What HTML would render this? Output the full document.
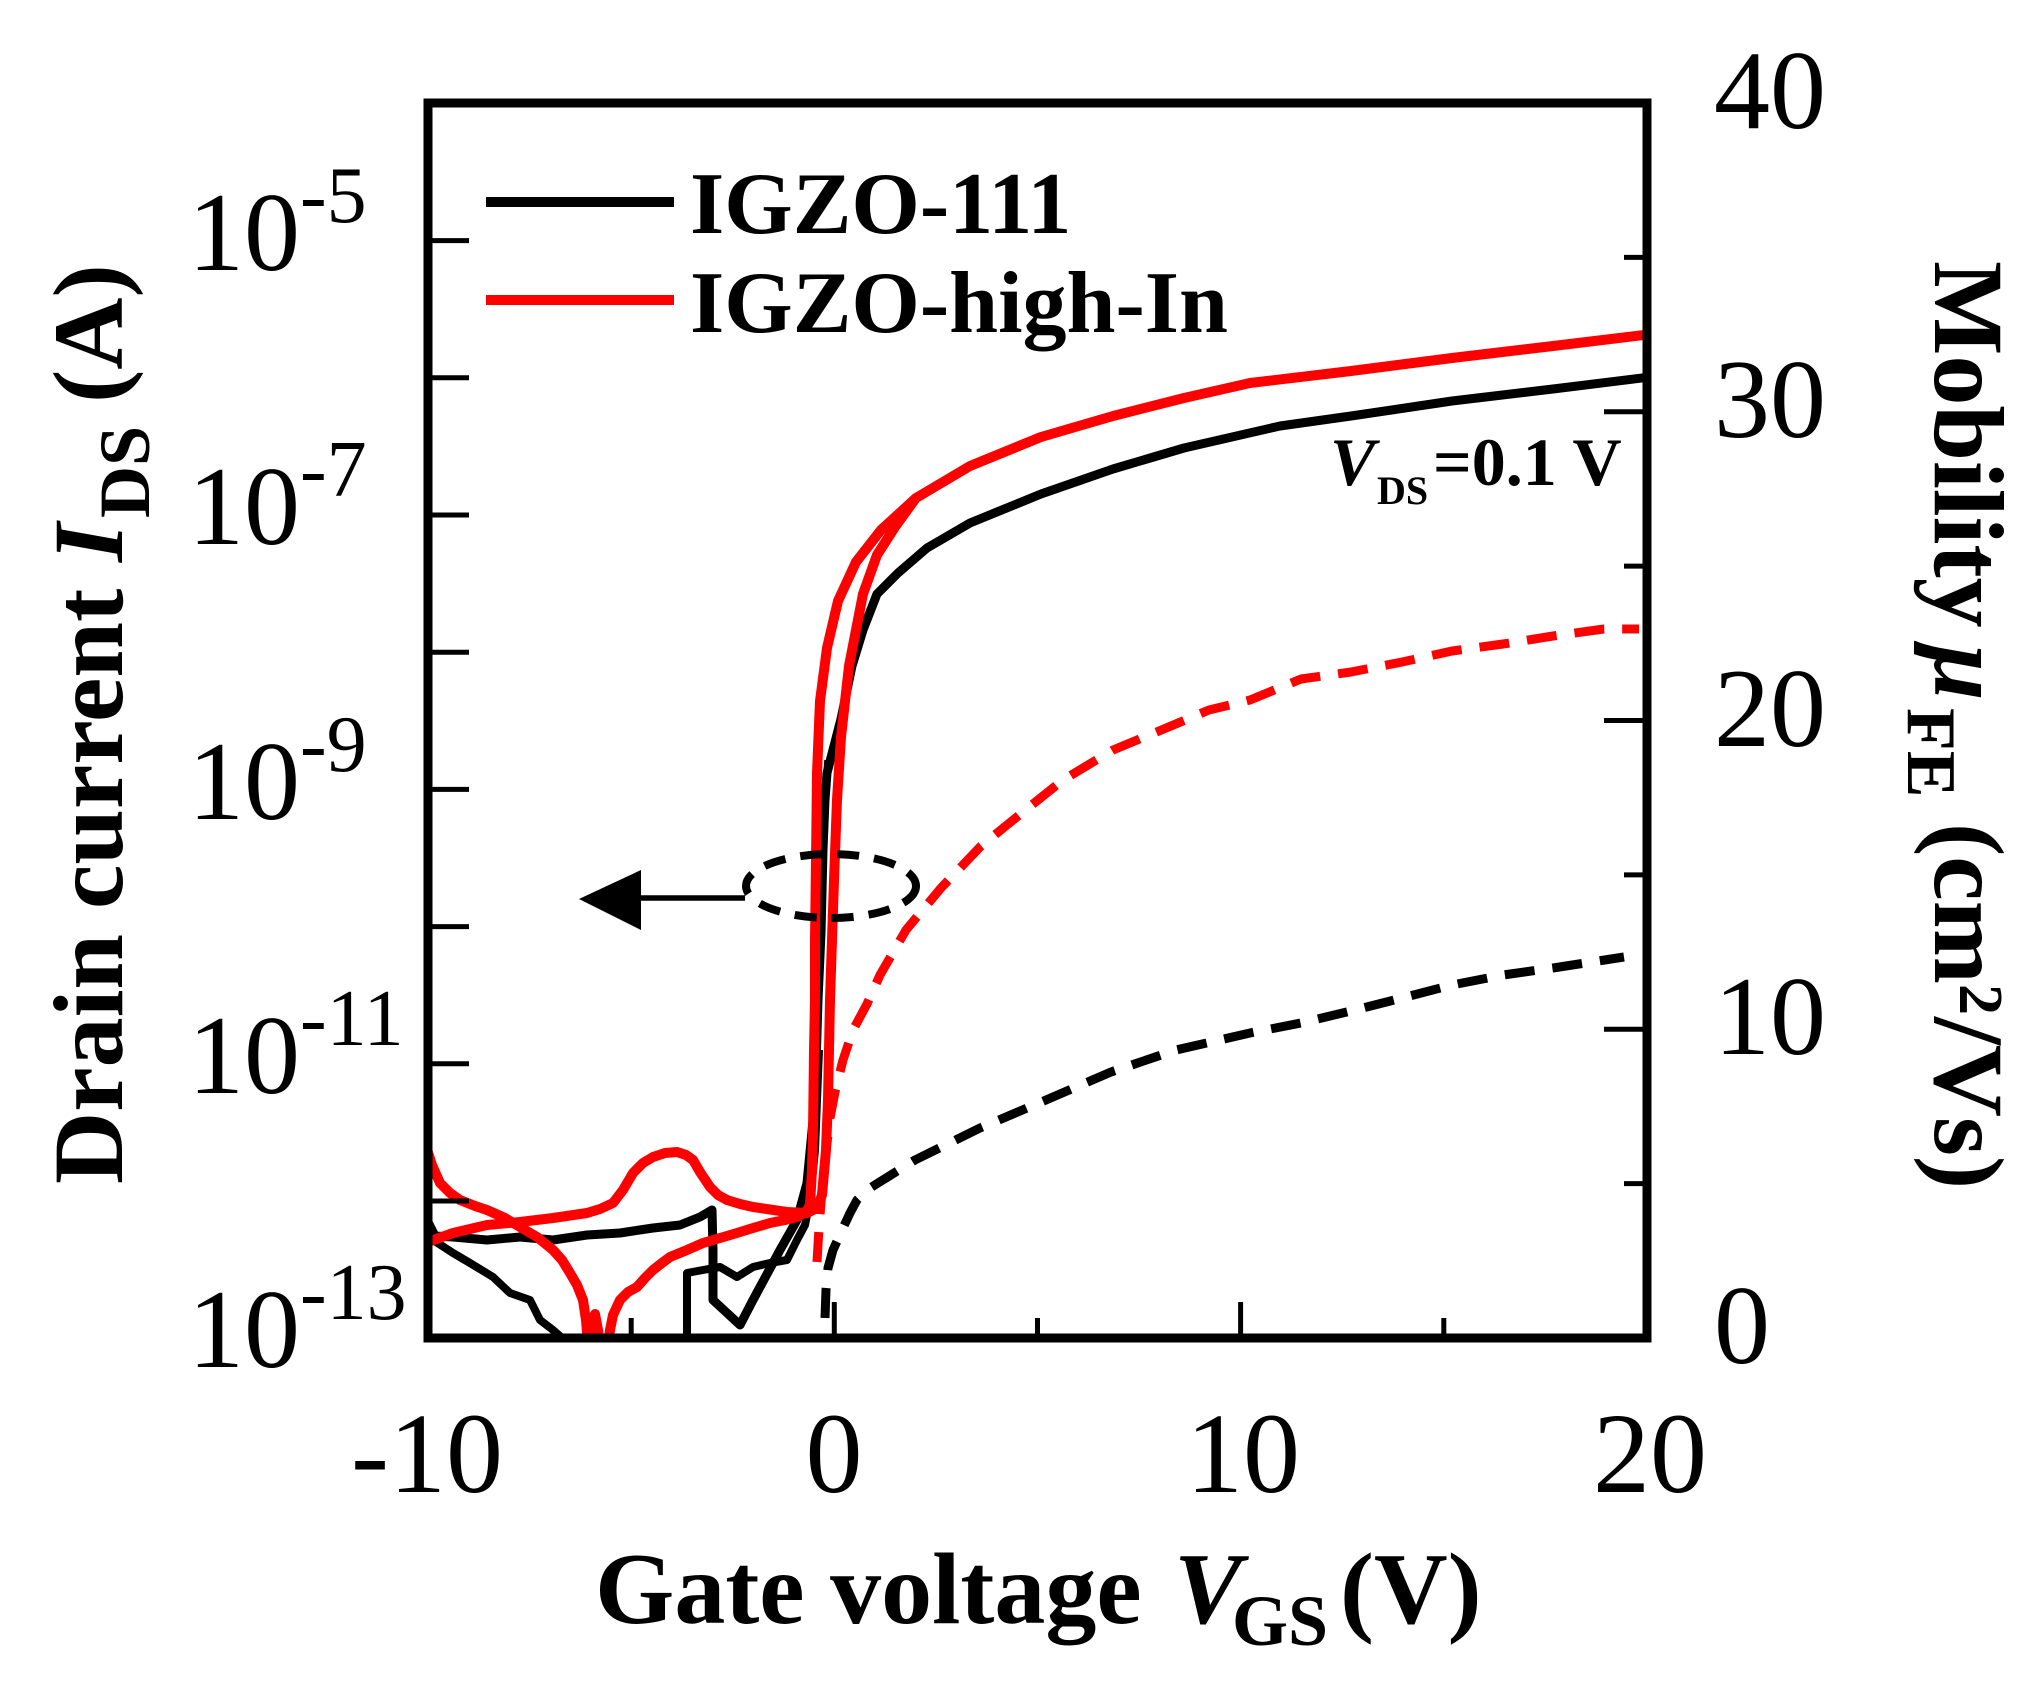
<!DOCTYPE html>
<html>
<head>
<meta charset="utf-8">
<style>
html,body{margin:0;padding:0;background:#fff;}
svg{display:block;}
text{font-family:"Liberation Serif","Times New Roman",serif;fill:#000;}
.b{font-weight:bold;}
.i{font-style:italic;}
</style>
</head>
<body>
<svg width="2043" height="1701" viewBox="0 0 2043 1701" xmlns="http://www.w3.org/2000/svg">
<rect x="0" y="0" width="2043" height="1701" fill="#fff"/>
<defs>
<clipPath id="pa"><rect x="428" y="103" width="1219" height="1235"/></clipPath>
</defs>

<g clip-path="url(#pa)" fill="none" stroke-linejoin="round">
  <!-- black dashed mobility -->
  <polyline stroke="#000" stroke-width="9" stroke-dasharray="30 18" points="825,1318 826,1290 828,1268 833,1250 843,1228 850,1213 857,1200 867,1190 878,1183 915,1160 980,1128 1046,1100 1111,1072 1176,1050 1250,1033 1301,1023 1351,1011 1402,998 1452,985 1503,975 1553,968 1624,957"/>
  <!-- red dashed mobility -->
  <polyline stroke="#ff0000" stroke-width="9" stroke-dasharray="30 18" points="817,1262 819,1228 822,1190 825,1160 830,1118 835,1092 843,1060 853,1030 867,1004 880,975 906,930 941,888 981,846 1023,812 1063,780 1113,750 1159,731 1209,710 1250,700 1301,679 1351,672 1402,662 1452,651 1503,644 1553,636 1604,629 1639,629"/>

  <!-- black solid curves -->
  <polyline stroke="#000" stroke-width="9" points="428,1222 435,1236 453,1237 487,1240 520,1237 553,1240 587,1235 620,1233 653,1228 680,1225 700,1217 712,1210 713,1250 713,1300 740,1325 753,1300 780,1250 797,1220 807,1183 815,1100 818,1000 821,933 823,850 825,800 827,773 841,719 852,666 863,630 877,594 898,573 927,548 970,523 1041,494 1113,469 1184,448 1280,426 1351,416 1452,401 1553,389 1650,377"/>
  <polyline stroke="#000" stroke-width="8" points="428,1222 433,1240 453,1253 470,1263 493,1277 510,1293 530,1300 540,1320 553,1330 570,1345"/>
  <polyline stroke="#000" stroke-width="8" points="687,1345 687,1273 703,1270 720,1267 737,1277 753,1267 770,1263 787,1260 797,1240 805,1225 810,1200 815,1150 819,1050"/>
  <polyline stroke="#000" stroke-width="3.5" points="819,1050 822,940 823,800 826,760"/>

  <!-- red solid curves -->
  <polyline stroke="#ff0000" stroke-width="10" points="425,1143 432,1165 440,1183 450,1193 460,1200 475,1206 487,1210 505,1218 520,1227 537,1237 553,1250 562,1260 570,1273 577,1285 583,1300 586,1320 588,1345 592,1322 595,1314 598,1330 600,1345"/>
  <polyline stroke="#ff0000" stroke-width="10" points="608,1345 610,1330 613,1315 620,1300 628,1292 637,1287 645,1278 653,1270 662,1263 670,1257 687,1250 703,1243 720,1238 737,1233 753,1228 770,1223 785,1220 797,1217 806,1212 810,1205 812,1170 813,1133 814,1050 815,1000 815,940 816,860 817,773 820,701 827,648 838,601 856,562 881,530 916,498 970,466 1041,437 1113,416 1184,398 1250,383 1351,371 1452,358 1553,346 1652,334"/>
  <polyline stroke="#ff0000" stroke-width="10" points="425,1243 453,1233 487,1225 520,1222 553,1218 587,1213 600,1209 613,1203 623,1190 633,1173 643,1163 653,1157 665,1153 677,1152 686,1155 693,1160 700,1172 710,1187 718,1195 727,1200 740,1204 753,1207 787,1212 807,1213 817,1208 822,1195 826,1150 828,1100 830,1000 832,940 834,880 837,800 841,737 849,666 863,594 877,555 895,527 916,498"/>
</g>

<!-- dashed ellipse and arrow -->
<ellipse cx="831" cy="886" rx="85" ry="32" fill="none" stroke="#000" stroke-width="8" stroke-dasharray="22 15"/>
<line x1="636" y1="898" x2="745" y2="898" stroke="#000" stroke-width="5.5"/>
<polygon points="579,899 641,870 641,930" fill="#000"/>

<!-- ticks -->
<g stroke="#000" stroke-width="5">
  <line x1="428" y1="240.6" x2="469" y2="240.6"/>
  <line x1="428" y1="377.8" x2="469" y2="377.8"/>
  <line x1="428" y1="515" x2="469" y2="515"/>
  <line x1="428" y1="652.2" x2="469" y2="652.2"/>
  <line x1="428" y1="789.4" x2="469" y2="789.4"/>
  <line x1="428" y1="926.6" x2="469" y2="926.6"/>
  <line x1="428" y1="1063.8" x2="469" y2="1063.8"/>
  <line x1="428" y1="1201" x2="469" y2="1201"/>
  <line x1="1604" y1="1029.25" x2="1647" y2="1029.25"/>
  <line x1="1604" y1="720.5" x2="1647" y2="720.5"/>
  <line x1="1604" y1="411.75" x2="1647" y2="411.75"/>
  <line x1="1624" y1="1183.6" x2="1647" y2="1183.6"/>
  <line x1="1624" y1="874.9" x2="1647" y2="874.9"/>
  <line x1="1624" y1="566.1" x2="1647" y2="566.1"/>
  <line x1="1624" y1="257.4" x2="1647" y2="257.4"/>
  <line x1="834.3" y1="1338" x2="834.3" y2="1302"/>
  <line x1="1240.6" y1="1338" x2="1240.6" y2="1302"/>
  <line x1="631.2" y1="1338" x2="631.2" y2="1318"/>
  <line x1="1037.5" y1="1338" x2="1037.5" y2="1318"/>
  <line x1="1443.8" y1="1338" x2="1443.8" y2="1318"/>
</g>

<!-- frame -->
<rect x="428" y="103" width="1219" height="1235" fill="none" stroke="#000" stroke-width="9"/>

<!-- legend -->
<line x1="486" y1="202" x2="674" y2="202" stroke="#000" stroke-width="10"/>
<line x1="486" y1="300" x2="674" y2="300" stroke="#ff0000" stroke-width="10"/>
<text class="b" x="690" y="233" font-size="88">IGZO-111</text>
<text class="b" x="690" y="332" font-size="88">IGZO-high-In</text>

<!-- VDS annotation -->
<text class="b i" x="1330" y="485" font-size="68">V</text>
<text class="b" x="1377" y="504" font-size="40">DS</text>
<text class="b" x="1433" y="485" font-size="68">=0.1 V</text>

<!-- left tick labels -->
<text x="188" y="270" font-size="112">10<tspan font-size="80" dy="-48">-5</tspan></text>
<text x="188" y="544" font-size="112">10<tspan font-size="80" dy="-48">-7</tspan></text>
<text x="188" y="819" font-size="112">10<tspan font-size="80" dy="-48">-9</tspan></text>
<text x="188" y="1093" font-size="112">10<tspan font-size="80" dy="-48">-11</tspan></text>
<text x="188" y="1367" font-size="112">10<tspan font-size="80" dy="-48">-13</tspan></text>

<!-- right tick labels -->
<text x="1714" y="1363" font-size="112">0</text>
<text x="1714" y="1054" font-size="112">10</text>
<text x="1714" y="746" font-size="112">20</text>
<text x="1714" y="437" font-size="112">30</text>
<text x="1714" y="128" font-size="112">40</text>

<!-- bottom tick labels -->
<text x="427" y="1492" font-size="114" text-anchor="middle">-10</text>
<text x="834" y="1492" font-size="114" text-anchor="middle">0</text>
<text x="1243" y="1492" font-size="114" text-anchor="middle">10</text>
<text x="1650" y="1492" font-size="114" text-anchor="middle">20</text>

<!-- bottom axis title -->
<text class="b" x="595" y="1623" font-size="102">Gate voltage</text>
<text class="b i" x="1174" y="1623" font-size="102">V</text>
<text class="b" x="1232" y="1645" font-size="72">GS</text>
<text class="b" x="1340" y="1623" font-size="102">(V)</text>

<!-- left axis title (rotated) -->
<text class="b" font-size="100" transform="translate(122,1184) rotate(-90)">Drain current</text>
<text class="b i" font-size="100" transform="translate(122,562) rotate(-90)">I</text>
<text class="b" font-size="72" transform="translate(149,518) rotate(-90)">DS</text>
<text class="b" font-size="100" transform="translate(122,403) rotate(-90)">(A)</text>

<!-- right axis title (rotated) -->
<text class="b" font-size="100" transform="translate(1935,261) rotate(90)">Mobility</text>
<text class="b i" font-size="100" transform="translate(1935,645) rotate(90)">μ</text>
<text class="b" font-size="70" transform="translate(1908,708) rotate(90)">FE</text>
<text class="b" font-size="100" transform="translate(1935,823) rotate(90)">(cm</text>
<text class="b" font-size="62" transform="translate(1960,984) rotate(90)">2</text>
<text class="b" font-size="100" transform="translate(1935,1017) rotate(90)">/Vs)</text>
</svg>
</body>
</html>
